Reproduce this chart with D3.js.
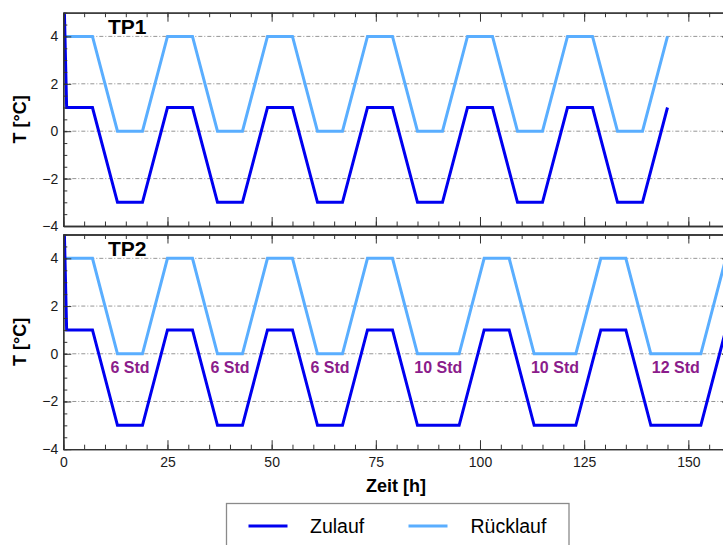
<!DOCTYPE html>
<html>
<head>
<meta charset="utf-8">
<script src="https://cdn.jsdelivr.net/npm/d3@7"></script>
<style>
  html, body { margin: 0; padding: 0; background: #fff; overflow: hidden; }
  svg { display: block; font-family: "Liberation Sans", Arial, sans-serif; }
</style>
</head>
<body>
<svg id="chart" width="723" height="545"></svg>
<script>
// ---- Data ----
const tp1Time     = [0, 0.8, 7, 13, 19, 25, 31, 37, 43, 49, 55, 61, 67, 73, 79, 85, 91, 97, 103, 109, 115, 121, 127, 133, 139, 145];
const tp1Zulauf   = [7, 1, 1, -3, -3, 1, 1, -3, -3, 1, 1, -3, -3, 1, 1, -3, -3, 1, 1, -3, -3, 1, 1, -3, -3, 1];
const tp1Ruecklauf= [4, 4, 4, 0, 0, 4, 4, 0, 0, 4, 4, 0, 0, 4, 4, 0, 0, 4, 4, 0, 0, 4, 4, 0, 0, 4];

const tp2Time     = [0, 0.8, 7, 13, 19, 25, 31, 37, 43, 49, 55, 61, 67, 73, 79, 85, 95, 101, 107, 113, 123, 129, 135, 141, 153, 159, 160];
const tp2Zulauf   = [7, 1, 1, -3, -3, 1, 1, -3, -3, 1, 1, -3, -3, 1, 1, -3, -3, 1, 1, -3, -3, 1, 1, -3, -3, 1, 1];
const tp2Ruecklauf= [4, 4, 4, 0, 0, 4, 4, 0, 0, 4, 4, 0, 0, 4, 4, 0, 0, 4, 4, 0, 0, 4, 4, 0, 0, 4, 4];

const stdLabels   = ["6 Std", "6 Std", "6 Std", "10 Std", "10 Std", "12 Std"];
const stdCenters  = [16, 40, 64, 90, 118, 147];
const stdValue    = -0.82;

const panelNames  = ["TP1", "TP2"];
const xTickValues = [0, 25, 50, 75, 100, 125, 150];
const yTickValues = [-4, -2, 0, 2, 4];
const gridValues  = [-2, 0, 2, 4];
const seriesNames = ["Zulauf", "Rücklauf"];
const seriesColors= ["#0000F0", "#5AAEFF"];

// ---- Layout ----
const svg = d3.select("#chart");
const x = d3.scaleLinear().domain([0, 160]).range([63.3, 730]);
const panels = [
  { name: panelNames[0], time: tp1Time, zu: tp1Zulauf, ru: tp1Ruecklauf, range: [226, 12.7], labels: false },
  { name: panelNames[1], time: tp2Time, zu: tp2Zulauf, ru: tp2Ruecklauf, range: [449.2, 234.5], labels: true }
];
const fmtMinus = d => d < 0 ? "\u2212" + Math.abs(d) : String(d);
const minorX = d3.range(0, 161, 5);
const minorY = d3.range(-4, 5.01, 0.5);

panels.forEach((p, i) => {
  const y = d3.scaleLinear().domain([-4, 5]).range(p.range);
  const g = svg.append("g");
  const clipId = "clip" + i;
  svg.append("clipPath").attr("id", clipId).append("rect")
    .attr("x", x(0)).attr("y", y(5)).attr("width", x(160) - x(0)).attr("height", y(-4) - y(5));

  // grid
  g.append("g").selectAll("line").data(gridValues).join("line")
    .attr("x1", x(0)).attr("x2", x(160))
    .attr("y1", d => y(d)).attr("y2", d => y(d))
    .attr("stroke", "#8a8a8a").attr("stroke-width", 0.9)
    .attr("stroke-dasharray", "4,2,1,2");

  // lines
  const mk = vals => p.time.map((t, k) => [t, vals[k]]);
  const line = d3.line().x(d => x(d[0])).y(d => y(d[1]));
  const lg = g.append("g").attr("clip-path", `url(#${clipId})`);
  lg.append("path").datum(mk(p.ru)).attr("d", line)
    .attr("fill", "none").attr("stroke", seriesColors[1]).attr("stroke-width", 3).attr("stroke-linejoin", "miter");
  lg.append("path").datum(mk(p.zu)).attr("d", line)
    .attr("fill", "none").attr("stroke", seriesColors[0]).attr("stroke-width", 3).attr("stroke-linejoin", "miter");

  // axes
  const styleAxis = sel => {
    sel.selectAll("path.domain").attr("stroke", "#333").attr("stroke-width", 1.3);
    sel.selectAll(".tick line").attr("stroke", "#333").attr("stroke-width", 1);
    sel.selectAll("text").attr("font-family", "Liberation Sans, Arial, sans-serif").attr("font-size", 14).attr("fill", "#1a1a1a");
  };
  // left
  g.append("g").attr("transform", `translate(${x(0)},0)`)
    .call(d3.axisLeft(y).tickValues(minorY).tickSize(-4).tickSizeOuter(0).tickFormat(""))
    .call(styleAxis);
  g.append("g").attr("transform", `translate(${x(0)},0)`)
    .call(d3.axisLeft(y).tickValues(yTickValues).tickSize(-8).tickSizeOuter(0).tickPadding(5).tickFormat(fmtMinus))
    .call(styleAxis);
  // right (off-screen edge)
  g.append("g").attr("transform", `translate(${x(160)},0)`)
    .call(d3.axisRight(y).tickValues(yTickValues).tickSize(-8).tickSizeOuter(0).tickFormat(""))
    .call(styleAxis);
  // top
  g.append("g").attr("transform", `translate(0,${y(5)})`)
    .call(d3.axisTop(x).tickValues(minorX).tickSize(-4.5).tickSizeOuter(0).tickFormat(""))
    .call(styleAxis);
  g.append("g").attr("transform", `translate(0,${y(5)})`)
    .call(d3.axisTop(x).tickValues(xTickValues).tickSize(-9).tickSizeOuter(0).tickFormat(""))
    .call(styleAxis);
  // bottom
  g.append("g").attr("transform", `translate(0,${y(-4)})`)
    .call(d3.axisBottom(x).tickValues(minorX).tickSize(-4.5).tickSizeOuter(0).tickFormat(""))
    .call(styleAxis);
  g.append("g").attr("transform", `translate(0,${y(-4)})`)
    .call(d3.axisBottom(x).tickValues(xTickValues).tickSize(-9).tickSizeOuter(0).tickPadding(8)
      .tickFormat(p.labels ? d3.format("d") : ""))
    .call(styleAxis);

  // panel title
  g.append("text").attr("x", 108).attr("y", y(5) + 21.5)
    .attr("font-size", 21).attr("font-weight", "bold").attr("fill", "#000").text(p.name);

  // y-axis title
  const cy = (y(5) + y(-4)) / 2;
  g.append("text").attr("transform", `translate(26,${cy}) rotate(-90)`)
    .attr("text-anchor", "middle").attr("font-size", 18).attr("font-weight", "bold").attr("fill", "#000")
    .text("T [°C]");

  // annotations
  if (p.labels) {
    g.append("g").selectAll("text").data(stdLabels).join("text")
      .attr("x", (d, k) => x(stdCenters[k])).attr("y", y(stdValue))
      .attr("text-anchor", "middle").attr("font-size", 16).attr("font-weight", "bold")
      .attr("fill", "#8B1C8B").text(d => d);
  }
});

// x-axis title
svg.append("text").attr("x", 396).attr("y", 492)
  .attr("text-anchor", "middle").attr("font-size", 18).attr("font-weight", "bold").attr("fill", "#000")
  .text("Zeit [h]");

// legend
const lgd = svg.append("g");
lgd.append("rect").attr("x", 226.5).attr("y", 503.5).attr("width", 342.5).attr("height", 60)
  .attr("fill", "#fff").attr("stroke", "#8a8a8a").attr("stroke-width", 1.3);
const legX = [248.5, 408.5];
const legTextX = [310, 470.5];
seriesNames.forEach((n, k) => {
  lgd.append("line").attr("x1", legX[k]).attr("x2", legX[k] + 39).attr("y1", 526).attr("y2", 526)
    .attr("stroke", seriesColors[k]).attr("stroke-width", 3);
  lgd.append("text").attr("x", legTextX[k]).attr("y", 532.5).attr("font-size", 19.5).attr("fill", "#000").text(n);
});
</script>
</body>
</html>
